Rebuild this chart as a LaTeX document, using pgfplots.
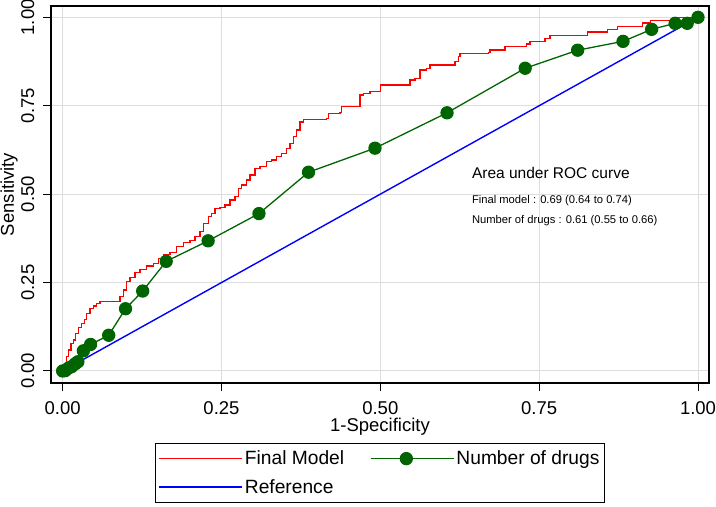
\documentclass[border=0pt]{standalone}
\usepackage{fontspec}
\setmainfont{Liberation Sans}
\usepackage{pgfplots}
\pgfplotsset{compat=1.18}
\definecolor{rocred}{RGB}{255,0,0}
\definecolor{rocgreen}{RGB}{0,100,0}
\definecolor{rocblue}{RGB}{0,0,255}
\definecolor{gridgray}{RGB}{222,222,222}
\newcommand{\bigfont}{\fontsize{18.5bp}{22bp}\selectfont}
\newcommand{\legfont}{\fontsize{19.2bp}{22bp}\selectfont}

\begin{document}
\begin{tikzpicture}
% page = 716 x 507, axis box from (0,0) to (658,377)
\path[use as bounding box] (-51bp,-124bp) rectangle (665bp,383bp);
\begin{axis}[
  at={(0,0)}, anchor=south west,
  scale only axis, width=658bp, height=377bp,
  xmin=-0.0183, xmax=1.0173, ymin=-0.034, ymax=1.032,
  xtick={0,0.25,0.5,0.75,1}, ytick={0,0.25,0.5,0.75,1},
  /pgf/number format/fixed, /pgf/number format/fixed zerofill,
  /pgf/number format/precision=2, /pgf/number format/assume math mode=true,
  tick label style={font=\bigfont},
  xticklabel style={anchor=center, yshift=-17bp},
  yticklabel style={rotate=90, anchor=south, inner ysep=8.5bp},
  label style={font=\bigfont},
  xlabel={1-Specificity}, ylabel={Sensitivity},
  xlabel style={at={(axis description cs:0.5,-0.1155)}, anchor=center},
  ylabel style={at={(axis description cs:-0.0638,0.5)}, anchor=center, rotate=0},
  grid=major, grid style={gridgray, line width=1bp},
  axis line style={black, line width=1.1bp},
  tick style={black, line width=1bp},
  major tick length=8bp, tick align=outside,
  xtick pos=bottom, ytick pos=left,
  legend columns=2,
  legend style={at={(0.5,-0.159)}, anchor=north, draw=black, line width=1bp,
    font=\legfont, inner xsep=3bp, inner ysep=5.5bp, row sep=9bp,
    /tikz/every even column/.append style={column sep=24bp}},
  legend cell align=left,
  legend image code/.code={\draw[mark repeat=2,mark phase=2,#1] plot coordinates {(0bp,0bp) (35.5bp,0bp) (71bp,0bp)};
    \path (0bp,0bp) -- (83bp,0bp);},
]
% Final model (empirical ROC, drawn as a staircase)
\addplot[rocred, line width=1.3bp, mark=none] coordinates {
(0,0)
(0.0065,0) (0.0065,0.0404) (0.0090,0.0404) (0.0090,0.0594)
(0.0132,0.0594) (0.0132,0.0783) (0.0168,0.0783) (0.0168,0.0876)
(0.0206,0.0876) (0.0206,0.1066) (0.0247,0.1066) (0.0247,0.1236)
(0.0301,0.1236) (0.0301,0.1349) (0.0341,0.1349) (0.0341,0.1462)
(0.0379,0.1462) (0.0379,0.1631) (0.0431,0.1631) (0.0431,0.1773)
(0.0483,0.1773) (0.0483,0.1838) (0.0537,0.1838) (0.0537,0.1914)
(0.0589,0.1914) (0.0589,0.1959) (0.0903,0.1959) (0.0903,0.2101)
(0.0955,0.2101) (0.0955,0.2290) (0.1009,0.2290) (0.1009,0.2525)
(0.1061,0.2525) (0.1061,0.2649) (0.1139,0.2649) (0.1139,0.2791)
(0.1218,0.2791) (0.1218,0.2875) (0.1323,0.2875) (0.1323,0.2969)
(0.1427,0.2969) (0.1427,0.3045) (0.1506,0.3045) (0.1506,0.3186)
(0.1585,0.3186) (0.1585,0.3299) (0.1690,0.3299) (0.1690,0.3345)
(0.1795,0.3345) (0.1795,0.3514) (0.1899,0.3514) (0.1899,0.3627)
(0.2005,0.3627) (0.2005,0.3684) (0.2083,0.3684) (0.2083,0.3797)
(0.2162,0.3797) (0.2162,0.3938) (0.2214,0.3938) (0.2214,0.4176)
(0.2293,0.4176) (0.2293,0.4362) (0.2346,0.4362) (0.2346,0.4459)
(0.2398,0.4459) (0.2398,0.4600) (0.2477,0.4600) (0.2477,0.4628)
(0.2555,0.4628) (0.2555,0.4693) (0.2634,0.4693) (0.2634,0.4835)
(0.2713,0.4835) (0.2713,0.4928) (0.2765,0.4928) (0.2765,0.5165)
(0.2818,0.5165) (0.2818,0.5259) (0.2897,0.5259) (0.2897,0.5400)
(0.2949,0.5400) (0.2949,0.5541) (0.3027,0.5541) (0.3027,0.5731)
(0.3106,0.5731) (0.3106,0.5776) (0.3212,0.5776) (0.3212,0.5917)
(0.3290,0.5917) (0.3290,0.5966) (0.3369,0.5966) (0.3369,0.6059)
(0.3448,0.6059) (0.3448,0.6155) (0.3526,0.6155) (0.3526,0.6296)
(0.3578,0.6296) (0.3578,0.6438) (0.3630,0.6438) (0.3630,0.6624)
(0.3684,0.6624) (0.3684,0.6814) (0.3736,0.6814) (0.3736,0.7040)
(0.3788,0.7040) (0.3788,0.7116) (0.4156,0.7116) (0.4156,0.7144)
(0.4181,0.7144) (0.4181,0.7286) (0.4365,0.7286) (0.4365,0.7303)
(0.4392,0.7303) (0.4392,0.7472) (0.4680,0.7472) (0.4680,0.7803)
(0.4732,0.7803) (0.4732,0.7851) (0.4837,0.7851) (0.4837,0.7897)
(0.5005,0.7897) (0.5005,0.8086) (0.5466,0.8086) (0.5466,0.8227)
(0.5545,0.8227) (0.5545,0.8275) (0.5624,0.8275) (0.5624,0.8510)
(0.5729,0.8510) (0.5729,0.8558) (0.5781,0.8558) (0.5781,0.8651)
(0.6175,0.8651) (0.6175,0.8745) (0.6227,0.8745) (0.6227,0.8886)
(0.6253,0.8886) (0.6253,0.8982) (0.6699,0.8982) (0.6699,0.8999)
(0.6725,0.8999) (0.6725,0.9076) (0.6961,0.9076) (0.6961,0.9169)
(0.7303,0.9169) (0.7303,0.9245) (0.7355,0.9245) (0.7355,0.9310)
(0.7591,0.9310) (0.7591,0.9406) (0.7670,0.9406) (0.7670,0.9491)
(0.8256,0.9491) (0.8256,0.9584) (0.8571,0.9584) (0.8571,0.9650)
(0.8735,0.9650) (0.8735,0.9746) (0.9128,0.9746) (0.9128,0.9839)
(0.9254,0.9839) (0.9254,0.9904) (0.9621,0.9904) (0.9621,1.0)
(1.0,1.0)
};
\addlegendentry{Final Model}
% Number of drugs
\addplot[rocgreen, line width=1.3bp, mark=*, mark size=6bp,
  mark options={fill=rocgreen, draw=rocgreen}] coordinates {
(0,0) (0.004,0.001) (0.009,0.008) (0.014,0.012) (0.0195,0.020) (0.024,0.026)
(0.0326,0.057) (0.044,0.075) (0.0725,0.101) (0.099,0.176) (0.126,0.226)
(0.163,0.310) (0.229,0.368) (0.309,0.445) (0.387,0.562) (0.4916,0.630)
(0.605,0.730) (0.728,0.856) (0.8105,0.907) (0.882,0.932) (0.927,0.966)
(0.964,0.983) (0.983,0.983) (1,1)
};
\addlegendentry{Number of drugs}
% Reference line
\addplot[rocblue, line width=1.4bp, mark=none] coordinates {(0,0) (1,1)};
\addlegendentry{Reference}

\node[anchor=west, inner sep=0pt, font=\fontsize{15.5bp}{18bp}\selectfont] at (axis cs:0.644,0.559) {Area under ROC curve};
\node[anchor=west, inner sep=0pt, font=\fontsize{11.2bp}{13bp}\selectfont] at (axis cs:0.644,0.481) {Final model : 0.69 (0.64 to 0.74)};
\node[anchor=west, inner sep=0pt, font=\fontsize{11.2bp}{13bp}\selectfont] at (axis cs:0.644,0.424) {Number of drugs : 0.61 (0.55 to 0.66)};
\end{axis}
\end{tikzpicture}
\end{document}
